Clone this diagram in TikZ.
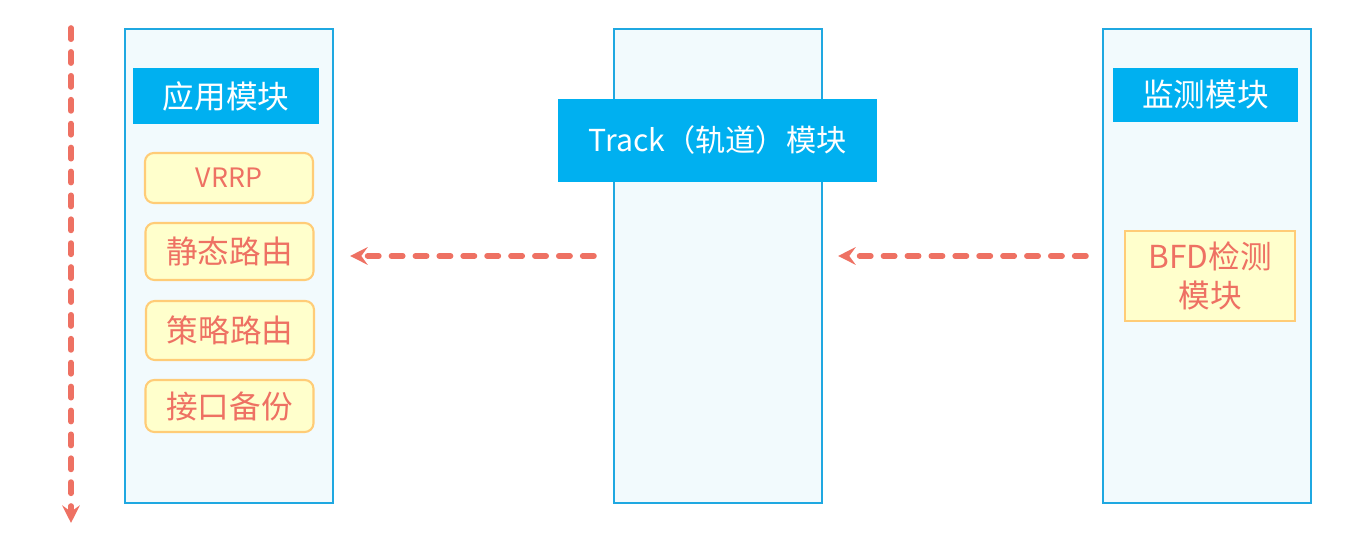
\documentclass[tikz,border=0pt]{standalone}
\usepackage{fontspec}
\setmainfont{Noto Sans CJK SC}
\usepackage{xcolor}
\usepackage{tikz}
\usetikzlibrary{positioning, calc, arrows.meta}

\definecolor{colline}{HTML}{1FA8E1}
\definecolor{colfill}{HTML}{F2FAFD}
\definecolor{headfill}{HTML}{00B0F0}
\definecolor{itemfill}{HTML}{FFFFCC}
\definecolor{itemline}{HTML}{FFCC77}
\definecolor{flowred}{HTML}{EE7163}

\tikzset{
    column/.style={draw=colline, fill=colfill, line width=0.6pt, minimum width=2.08cm, minimum height=4.74cm, inner sep=0pt},
    header/.style={fill=headfill, text=white, inner sep=0pt, font=\fontsize{9}{11}\selectfont},
    item/.style={draw=itemline, fill=itemfill, text=flowred, line width=0.6pt, rounded corners=2.5pt, minimum width=1.68cm, inner sep=0pt, font=\fontsize{9}{11}\selectfont},
    flow/.style={draw=flowred, line width=1.6pt, line cap=round, dash pattern=on 3.2pt off 3.6pt, -{Stealth[length=5pt, width=5pt, inset=1.8pt]}}
}

\begin{document}
\begin{tikzpicture}
    \useasboundingbox (0,0) rectangle (13.65,5.55);

    % three columns
    \node[column] (app) at (2.29,2.89) {};
    \node[column] (trk) at (7.18,2.89) {};
    \node[column] (mon) at (12.07,2.89) {};

    % column headers
    \node[header, minimum width=1.86cm, minimum height=0.56cm] (appH) at (2.26,4.59) {应用模块};
    \node[header, minimum width=3.19cm, minimum height=0.83cm, font=\fontsize{8.6}{10}\selectfont] (trkH) at (7.175,4.145) {Track（轨道）模块};
    \node[header, minimum width=1.85cm, minimum height=0.54cm] (monH) at (12.055,4.60) {监测模块};

    % application items
    \node[item, minimum height=0.50cm, font=\fontsize{7.6}{9}\selectfont] (vrrp) at (2.29,3.77) {VRRP};
    \node[item, minimum height=0.57cm] (static) at (2.295,3.035) {静态路由};
    \node[item, minimum height=0.59cm] (policy) at (2.30,2.245) {策略路由};
    \node[item, minimum height=0.52cm] (backup) at (2.295,1.49) {接口备份};

    % detection item
    \node[item, rounded corners=0pt, minimum width=1.70cm, minimum height=0.90cm, align=center] (bfd) at (12.10,2.79) {BFD检测\\模块};

    % notification flow
    \draw[flow, shorten <=0.16cm, shorten >=0.15cm] ([yshift=0.10cm]mon.west) -- ([yshift=0.10cm]trk.east);
    \draw[flow, shorten <=0.19cm, shorten >=0.16cm] ([yshift=0.10cm]trk.west) -- ([yshift=0.10cm]app.east);

    % time axis
    \coordinate (tTop) at (0.71,5.27);
    \coordinate (tEnd) at (0.71,0.32);
    \draw[flow] (tTop) -- (tEnd);
\end{tikzpicture}
\end{document}
